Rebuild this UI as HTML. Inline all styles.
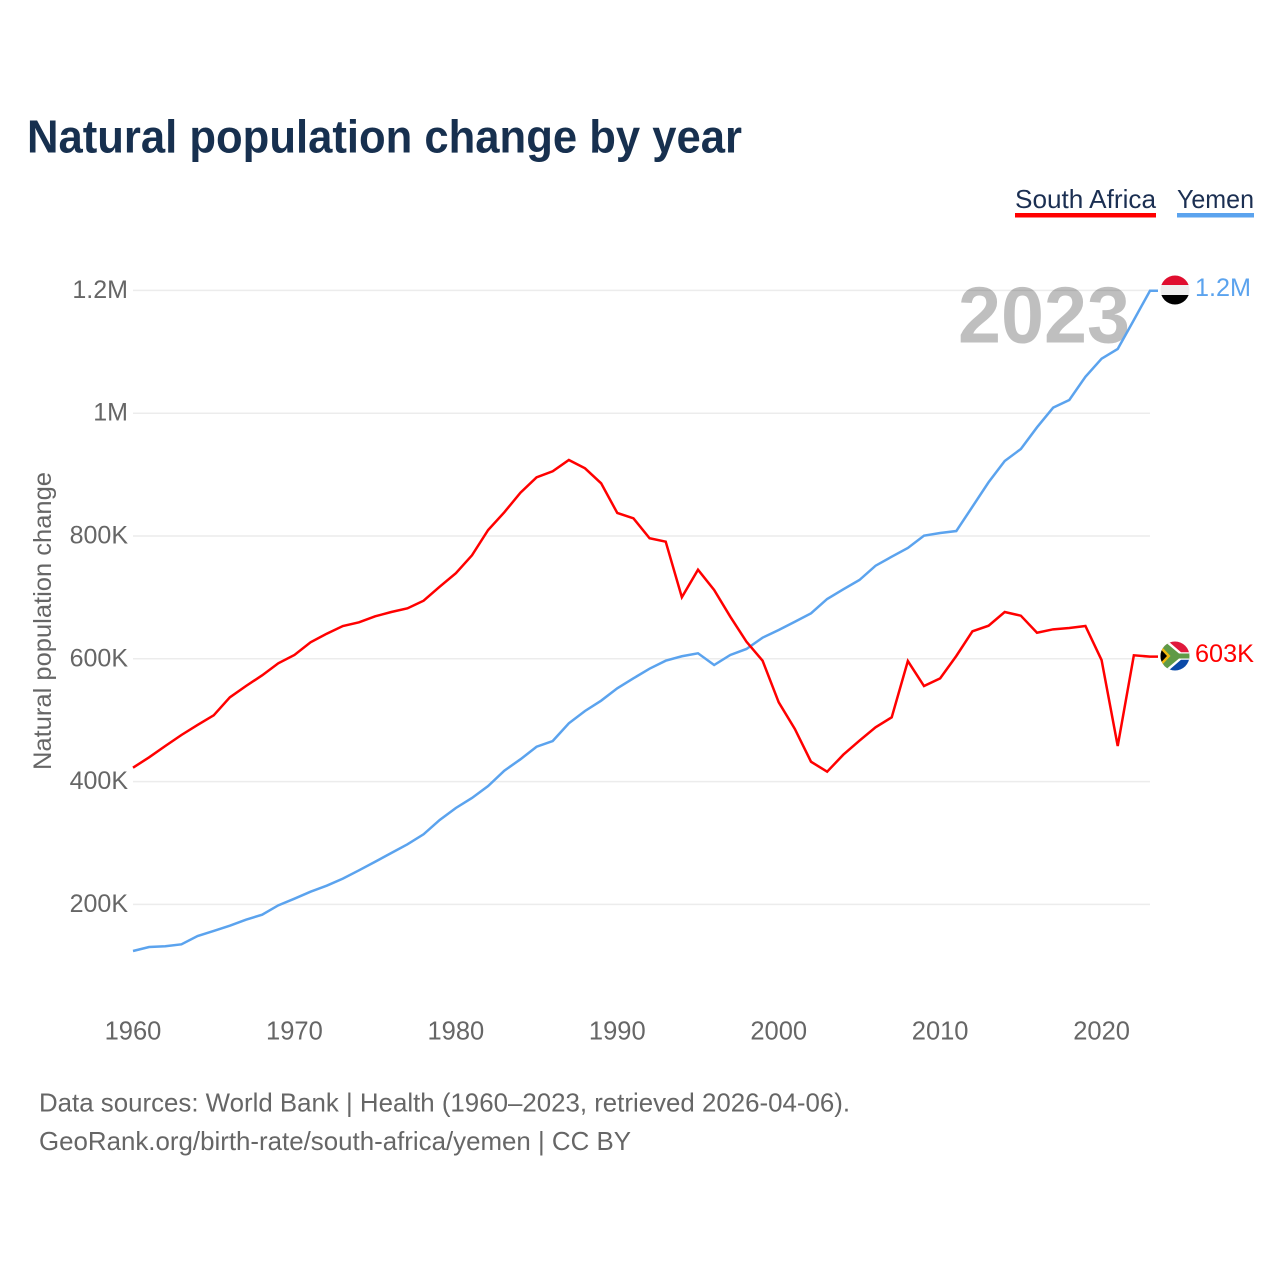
<!DOCTYPE html>
<html lang="en">
<head>
<meta charset="utf-8">
<title>Natural population change by year</title>
<style>
html,body{margin:0;padding:0;background:#fff;width:1280px;height:1280px;overflow:hidden}
svg{display:block;font-family:"Liberation Sans",sans-serif}
</style>
</head>
<body>
<svg id="chart" width="1280" height="1280" viewBox="0 0 1280 1280" xmlns="http://www.w3.org/2000/svg">
  <defs>
    <clipPath id="clip-yemen"><circle cx="1175" cy="290" r="14.5"/></clipPath>
    <clipPath id="clip-za"><circle cx="1175" cy="656" r="14.5"/></clipPath>
  </defs>
  <rect width="1280" height="1280" fill="#fff"/>
  <text x="27" y="152.5" font-size="46" font-weight="700" fill="#17304f" textLength="715" lengthAdjust="spacingAndGlyphs">Natural population change by year</text>

  <g>
    <g>
      <text x="1015" y="208" font-size="26" fill="#1b2f52" textLength="141" lengthAdjust="spacingAndGlyphs">South Africa</text>
      <rect x="1015" y="213" width="141" height="4.5" fill="#ff0000"/>
    </g>
    <g>
      <text x="1177" y="208" font-size="26" fill="#1b2f52" textLength="77" lengthAdjust="spacingAndGlyphs">Yemen</text>
      <rect x="1177" y="213" width="77" height="4.5" fill="#5ba3ee"/>
    </g>
  </g>

  <g id="grid"></g>
  <g id="yticks"></g>
  <g id="xticks"></g>
  <text transform="translate(51 770) rotate(-90)" font-size="25" fill="#666" textLength="298" lengthAdjust="spacingAndGlyphs">Natural population change</text>

  <text id="year-label" x="958" y="342.5" font-size="80" font-weight="700" fill="#000" fill-opacity="0.25" textLength="172" lengthAdjust="spacingAndGlyphs">2023</text>

  <g id="series"></g>

  <g clip-path="url(#clip-yemen)">
    <rect x="1160" y="275" width="30" height="10" fill="#e00e2f"/>
    <rect x="1160" y="285" width="30" height="10" fill="#efefef"/>
    <rect x="1160" y="295" width="30" height="11" fill="#000"/>
  </g>
  <g clip-path="url(#clip-za)">
    <rect x="1160" y="641" width="30" height="15" fill="#e0193c"/>
    <rect x="1160" y="656" width="30" height="16" fill="#0b4aa8"/>
    <polygon points="1160,641 1168,641 1181,652.3 1190,652.3 1190,659.7 1181,659.7 1168,671 1160,671" fill="#fff"/>
    <polygon points="1160,641 1164,641 1179,653.5 1190,653.5 1190,658.5 1179,658.5 1164,671 1160,671" fill="#5f9a47"/>
    <polygon points="1160,645 1170.5,656 1160,667" fill="#f2b90f"/>
    <polygon points="1160,648.5 1167,656 1160,663.5" fill="#000"/>
  </g>

  <text id="end-yemen" x="1195" y="296" font-size="25" fill="#5ba3ee" textLength="56" lengthAdjust="spacingAndGlyphs">1.2M</text>
  <text id="end-za" x="1195" y="662" font-size="25" fill="#ff0000" textLength="59" lengthAdjust="spacingAndGlyphs">603K</text>

  <text x="39" y="1111.5" font-size="26" fill="#666" textLength="811" lengthAdjust="spacingAndGlyphs">Data sources: World Bank | Health (1960–2023, retrieved 2026-04-06).</text>
  <text x="39" y="1150" font-size="26" fill="#666" textLength="592" lengthAdjust="spacingAndGlyphs">GeoRank.org/birth-rate/south-africa/yemen | CC BY</text>
</svg>
<script>
const startYear = 1960;
const xTickYears = [1960, 1970, 1980, 1990, 2000, 2010, 2020];
const yTickValues = [200, 400, 600, 800, 1000, 1200];
const yTickLabels = ['200K', '400K', '600K', '800K', '1M', '1.2M'];
const southAfrica = [422.6,439.6,458,475.9,492.2,508,537.3,555.7,573.1,592.7,606.2,626.9,640.9,653.4,659.4,669.2,676.2,682.2,694.6,717.4,739.3,768.6,809.8,838.6,870.5,895.6,905.4,923.8,910.3,885.8,837.5,828.8,796.3,790.7,700.2,745.1,712.1,668.6,627.9,596.9,529.2,485.7,432.4,416.1,443.8,466.6,488.4,504.7,596.4,555.7,568.2,604.6,644.8,653.9,676.2,670.2,642.5,648,650.2,653.4,598,458,605.7,603.5];
const yemen = [124.1,130.6,131.8,135,148.5,156.7,165.3,175.1,183.2,198.5,209.3,220.7,230.5,241.9,255.5,269.5,283.7,297.9,314.2,337.5,357,373.3,392.8,417.8,436.3,456.8,466.1,495,515,531.8,552,568.2,583.9,596.9,604.1,609,589.9,606.2,616,634.4,646.9,660.4,674.1,697.4,713.2,728.3,751.6,766.3,780.5,800.5,804.9,808.1,847.7,887.5,922.1,941.7,977,1009,1021.5,1059.4,1088.8,1104.6,1151.8,1199.5];

const NS = 'http://www.w3.org/2000/svg';
const plotLeft = 133, plotRight = 1150;
const endYear = startYear + southAfrica.length - 1;
function xScale(year) { return plotLeft + (year - startYear) * (plotRight - plotLeft) / (endYear - startYear); }
function yScale(v) { return 1027.2 - v * 0.614; }
function make(tag, attrs, parent) {
  const el = document.createElementNS(NS, tag);
  Object.keys(attrs).forEach(function (k) { el.setAttribute(k, attrs[k]); });
  parent.appendChild(el);
  return el;
}
const grid = document.getElementById('grid');
const yticks = document.getElementById('yticks');
const xticks = document.getElementById('xticks');
const series = document.getElementById('series');

yTickValues.forEach(function (v, i) {
  const line = make('line', {x1: plotLeft, x2: plotRight, y1: yScale(v), y2: yScale(v), stroke: '#ececec', 'stroke-width': 1.5}, grid);
  
  
  const t = make('text', {x: 128, y: yScale(v) + 7.5, 'text-anchor': 'end', 'font-size': 25, fill: '#666'}, yticks);
  t.textContent = yTickLabels[i];
  
  
});
xTickYears.forEach(function (yr) {
  const t = make('text', {x: xScale(yr), y: 1039.5, 'text-anchor': 'middle', 'font-size': 25.5, fill: '#666'}, xticks);
  t.textContent = String(yr);
  
  
});
function drawLine(values, color) {
  const pts = values.map(function (v, i) { return xScale(startYear + i).toFixed(2) + ',' + yScale(v).toFixed(2); });
  const last = values[values.length - 1];
  pts.push((plotRight + 8) + ',' + yScale(last).toFixed(2));
  return make('polyline', {points: pts.join(' '), fill: 'none', stroke: color, 'stroke-width': 2.5, 'stroke-linejoin': 'miter'}, series);
}
const lineYemen = drawLine(yemen, '#5ba3ee');


const lineZa = drawLine(southAfrica, '#ff0000');


</script>
</body>
</html>
